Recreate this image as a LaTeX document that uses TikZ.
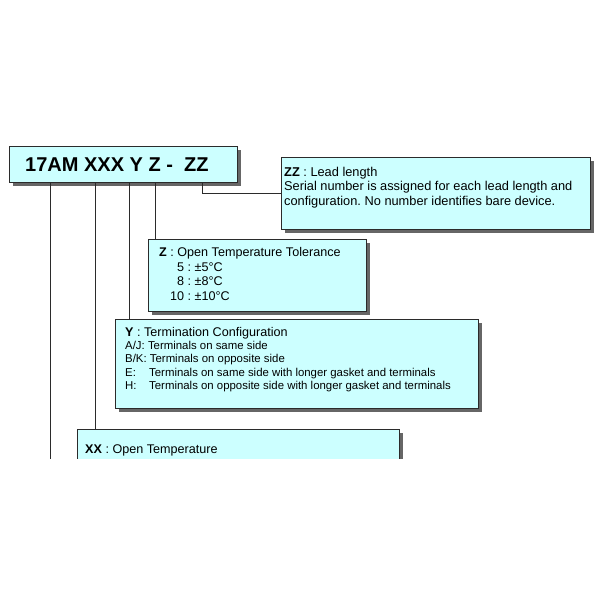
\documentclass[tikz,border=0pt]{standalone}
\usepackage{fontspec}
\setmainfont{Liberation Sans}
\frenchspacing
\usetikzlibrary{shadows}
\definecolor{boxfill}{HTML}{CCFFFF}
\definecolor{edge}{HTML}{2B2B2B}
\tikzset{
  cbox/.style={draw=edge, line width=1pt, fill=boxfill, anchor=north west, inner sep=0pt,
    drop shadow={shadow xshift=3pt, shadow yshift=-3pt, fill=black!60, opacity=1}},
  lbl/.style={anchor=base west, inner sep=0pt, font=\fontsize{12.6}{14.6}\selectfont},
  small/.style={anchor=base west, inner sep=0pt, font=\fontsize{11.4}{13.3}\selectfont},
  wire/.style={draw=edge, line width=0.9pt},
}
\begin{document}
\begin{tikzpicture}[x=1pt,y=-1pt]
\useasboundingbox (0,0) rectangle (600,600);
\begin{scope}
\clip (0,0) rectangle (600,458);
% boxes
\node[cbox, minimum width=228pt, minimum height=36pt] (code) at (9,146) {};
\node[cbox, minimum width=309pt, minimum height=72pt] (zzbox) at (281,157) {};
\node[cbox, minimum width=218pt, minimum height=72pt] (zbox) at (148,239) {};
\node[cbox, minimum width=363pt, minimum height=89pt] (ybox) at (115,319) {};
\node[cbox, minimum width=322pt, minimum height=100pt] (xxbox) at (77,429) {};
% title
\node[anchor=base west, inner sep=0pt, font=\fontsize{20}{24}\selectfont\bfseries] (title) at (25,171.7) {17AM XXX Y Z -\ \ ZZ};
% connectors
\coordinate (leftend) at (50,520);
\draw[wire] (code.south -| 50,0) -- (leftend);
\draw[wire] (code.south -| 95,0) -- (xxbox.north -| 95,0);
\draw[wire] (code.south -| 129,0) -- (ybox.north -| 129,0);
\draw[wire] (code.south -| 155,0) -- (zbox.north -| 155,0);
\draw[wire] (code.south -| 202,0) |- (zzbox.west);
% ZZ text
\node[lbl, font=\fontsize{12.8}{14.6}\selectfont] (zz1) at (284,176) {\textbf{ZZ} : Lead length};
\node[lbl, font=\fontsize{12.8}{14.6}\selectfont] (zz2) at (284,190.5) {Serial number is assigned for each lead length and};
\node[lbl, font=\fontsize{12.8}{14.6}\selectfont] (zz3) at (284,205) {configuration. No number identifies bare device.};
% Z text
\node[lbl] (z1) at (159,256.7) {\textbf{Z} : Open Temperature Tolerance};
\node[lbl] (z2) at (170,271) {\makebox[14pt][r]{5} : ±5°C};
\node[lbl] (z3) at (170,285.6) {\makebox[14pt][r]{8} : ±8°C};
\node[lbl] (z4) at (170,300.2) {\makebox[14pt][r]{10} : ±10°C};
% Y text
\node[lbl] (y1) at (125,336.7) {\textbf{Y} : Termination Configuration};
\node[small] (y2) at (125,349.6) {A/J: Terminals on same side};
\node[small] (y3) at (125,362.9) {B/K: Terminals on opposite side};
\node[small] (y4) at (125,376.2) {\makebox[24pt][l]{E:}Terminals on same side with longer gasket and terminals};
\node[small] (y5) at (125,389.5) {\makebox[24pt][l]{H:}Terminals on opposite side with longer gasket and terminals};
% XX text
\node[lbl] (xx1) at (85,453) {\textbf{XX} : Open Temperature};
\end{scope}
\end{tikzpicture}
\end{document}
